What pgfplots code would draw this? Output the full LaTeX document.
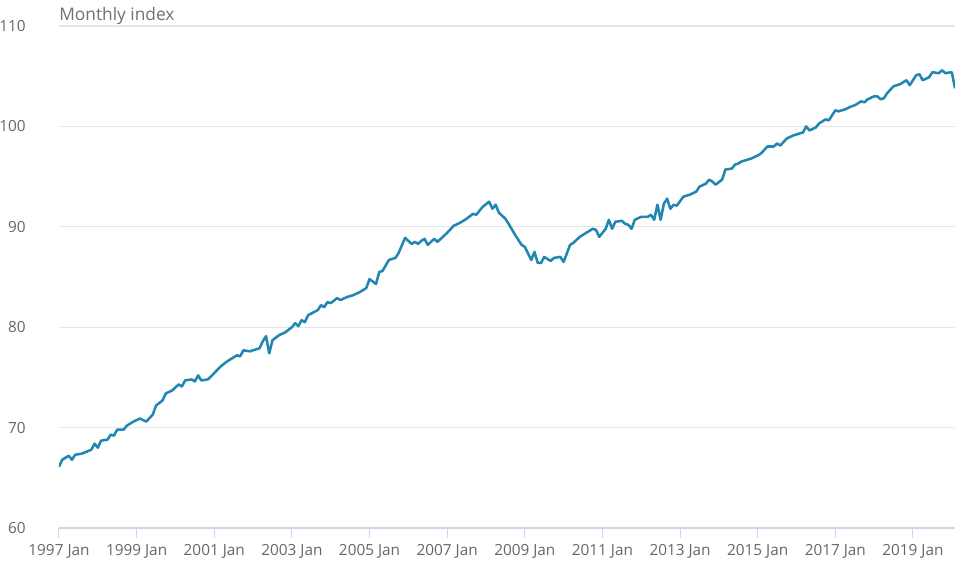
\documentclass[border=0pt]{standalone}
\usepackage{fontspec}
\setmainfont{Open Sans}
\usepackage{pgfplots}
\pgfplotsset{compat=1.18}

\definecolor{lineblue}{RGB}{33,134,178}
\definecolor{labelgray}{RGB}{102,102,102}
\definecolor{titlegray}{RGB}{112,112,112}
\definecolor{gridgray}{RGB}{230,230,230}
\definecolor{axisblue}{RGB}{204,214,235}

% monthly index, x = months since 1997 Jan
\pgfplotstableread{
m v
0 66.1
1 66.8
3 67.2
4 66.8
5 67.3
7 67.4
10 67.8
11 68.4
12 68.0
13 68.7
15 68.8
16 69.3
17 69.2
18 69.8
20 69.8
21 70.2
23 70.6
25 70.9
27 70.6
29 71.3
30 72.2
32 72.7
33 73.4
35 73.7
37 74.3
38 74.1
39 74.7
41 74.8
42 74.6
43 75.2
44 74.7
46 74.8
47 75.1
50 76.1
52 76.6
55 77.2
56 77.1
57 77.7
59 77.6
62 77.9
63 78.6
64 79.1
65 77.4
66 78.7
68 79.2
70 79.5
72 80.0
73 80.4
74 80.1
75 80.7
76 80.5
77 81.2
80 81.7
81 82.2
82 82.0
83 82.5
84 82.4
86 82.9
87 82.7
89 83.0
91 83.2
93 83.5
95 83.9
96 84.8
98 84.3
99 85.5
100 85.6
102 86.7
104 86.9
105 87.4
107 88.9
109 88.3
110 88.5
111 88.3
112 88.6
113 88.8
114 88.2
116 88.8
117 88.5
119 89.1
120 89.4
122 90.1
124 90.4
126 90.8
128 91.3
129 91.2
131 92.0
133 92.5
134 91.8
135 92.2
136 91.4
138 90.8
139 90.3
141 89.2
143 88.2
144 88.0
146 86.7
147 87.5
148 86.4
149 86.4
150 87.0
152 86.6
153 86.9
155 87.0
156 86.5
158 88.2
159 88.4
161 89.0
163 89.4
165 89.8
166 89.7
167 89.0
169 89.8
170 90.7
171 89.8
172 90.5
174 90.6
175 90.3
176 90.2
177 89.8
178 90.7
180 91.0
182 91.0
183 91.2
184 90.7
185 92.2
186 90.7
187 92.3
188 92.8
189 91.8
190 92.2
191 92.1
193 93.0
195 93.2
197 93.5
198 94.0
200 94.3
201 94.7
202 94.5
203 94.2
205 94.7
206 95.7
208 95.8
209 96.2
210 96.3
211 96.5
214 96.8
216 97.1
217 97.3
219 98.0
221 98.0
222 98.3
223 98.1
225 98.8
227 99.1
228 99.2
230 99.4
231 100.0
232 99.6
234 99.9
235 100.3
237 100.7
238 100.6
240 101.6
241 101.5
243 101.7
245 102.0
246 102.1
248 102.5
249 102.4
250 102.7
252 103.0
253 103.0
254 102.7
255 102.8
256 103.3
258 104.0
260 104.2
261 104.4
262 104.6
263 104.1
265 105.1
266 105.2
267 104.6
269 104.9
270 105.4
272 105.3
273 105.6
274 105.3
276 105.4
277 103.8
}\indexdata

\begin{document}
\begin{tikzpicture}
\useasboundingbox (-44.25pt,-25.5pt) rectangle (672pt,396pt);
\begin{axis}[
    at={(0,0)}, anchor=south west,
    scale only axis,
    width=672pt, height=376.5pt,
    xmin=0, xmax=277,
    ymin=60, ymax=110,
    ytick={60,70,...,110},
    xtick={0,24,...,264},
    xticklabels={1997 Jan,1999 Jan,2001 Jan,2003 Jan,2005 Jan,2007 Jan,2009 Jan,2011 Jan,2013 Jan,2015 Jan,2017 Jan,2019 Jan},
    axis x line*=bottom,
    axis y line*=left,
    x axis line style={draw=axisblue, line width=0.9pt, -},
    y axis line style={draw=none},
    xtick style={draw=axisblue, line width=0.75pt},
    ytick style={draw=none},
    tick align=outside,
    major tick length=7.5pt,
    ymajorgrids,
    grid style={gridgray, line width=0.9pt},
    tick label style={font=\fontsize{11.5}{13}\selectfont, text=labelgray},
    xticklabel style={yshift=-1pt},
    yticklabel style={xshift=-14pt},
    /pgf/number format/assume math mode=true,
    clip=true,
]
\addplot[lineblue, line width=1.9pt, line join=round, mark=none] table[x=m, y=v] {\indexdata};
\end{axis}
\node[anchor=base west, font=\fontsize{13}{15}\selectfont, text=titlegray, inner sep=0pt]
    at (0pt,380.5pt) {Monthly index};
\end{tikzpicture}
\end{document}
